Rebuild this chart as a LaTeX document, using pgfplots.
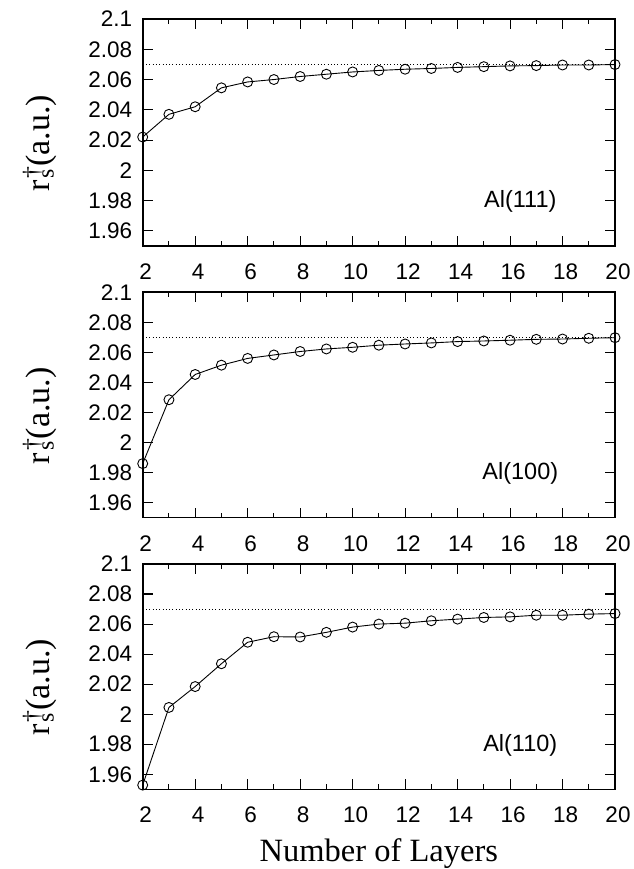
\documentclass[border=0pt]{standalone}
\usepackage{fontspec}
\setmainfont{Liberation Serif}
\newfontfamily\arial{Liberation Sans}
\usepackage{pgfplots}
\pgfplotsset{compat=1.18}

\tikzset{lab/.style={font=\arial\fontsize{23.5}{23.5}\selectfont}}
\pgfplotsset{
 panel/.style={
  scale only axis, width=472.3pt,
  xmin=2, xmax=20, ymin=1.95, ymax=2.1,
  xtick={2,4,6,8,10,12,14,16,18,20},
  minor xtick={3,5,7,9,11,13,15,17,19},
  xticklabels={2,4,6,8,10,12,14,16,18,20},
  ytick={1.96,1.98,2,2.02,2.04,2.06,2.08,2.1},
  yticklabels={1.96,1.98,2,2.02,2.04,2.06,2.08,2.1},
  tick align=inside,
  major tick length=10pt, minor tick length=5pt,
  tick style={black, line width=1.1pt},
  axis line style={line width=1.6pt},
  tick label style={font=\arial\fontsize{22.5}{22.5}\selectfont},
  xticklabel style={anchor=base, yshift=-33.6pt, xshift=3pt},
  yticklabel style={xshift=-7pt},
  clip=false,
  ylabel={r\kern2pt\rlap{\raisebox{0.05em}{\textsuperscript{\dag}}}\textsubscript{s}\kern2pt(a.u.)},
  ylabel style={at={(axis description cs:-0.1963,0.452)}, anchor=base, font=\fontsize{34}{34}\selectfont},
 },
 dat/.style={black, line width=0.9pt, mark=o, mark size=5pt, mark options={line width=0.9pt, solid}},
 ref/.style={black, line width=0.8pt, dash pattern=on 1pt off 2.3pt},
}

\begin{document}
\begin{tikzpicture}
\begin{axis}[panel, at={(142.7pt,623pt)}, anchor=south west, height=227pt]
\addplot[ref] coordinates {(2,2.07) (20,2.07)};
\addplot[dat] coordinates {
(2,2.022) (3,2.037) (4,2.042) (5,2.0545) (6,2.0584) (7,2.060) (8,2.062) (9,2.0635)
(10,2.065) (11,2.066) (12,2.0668) (13,2.0673) (14,2.068) (15,2.0685) (16,2.069)
(17,2.0692) (18,2.0696) (19,2.0696) (20,2.0699)};
\node[lab] at (axis cs:16.39,1.9795) {Al(111)};
\end{axis}
\begin{axis}[panel, at={(142.7pt,351.3pt)}, anchor=south west, height=225.4pt]
\addplot[ref] coordinates {(2,2.07) (20,2.07)};
\addplot[dat] coordinates {
(2,1.986) (3,2.0285) (4,2.0453) (5,2.0515) (6,2.056) (7,2.0583) (8,2.0606) (9,2.0623)
(10,2.0634) (11,2.0648) (12,2.0656) (13,2.0663) (14,2.0672) (15,2.0676) (16,2.0681)
(17,2.0687) (18,2.0689) (19,2.0694) (20,2.0698)};
\node[lab] at (axis cs:16.39,1.9795) {Al(100)};
\end{axis}
\begin{axis}[panel, at={(142.7pt,79.7pt)}, anchor=south west, height=225.3pt,
  xlabel={Number of Layers},
  xlabel style={at={(axis description cs:0.5,-0.3213)}, anchor=base, font=\fontsize{32.5}{32.5}\selectfont}]
\addplot[ref] coordinates {(2,2.07) (20,2.07)};
\addplot[dat] coordinates {
(2,1.9528) (3,2.0045) (4,2.0184) (5,2.0336) (6,2.0479) (7,2.0516) (8,2.0514) (9,2.0545)
(10,2.058) (11,2.060) (12,2.0606) (13,2.0622) (14,2.0633) (15,2.0644) (16,2.0648)
(17,2.0659) (18,2.0659) (19,2.0666) (20,2.067)};
\node[lab] at (axis cs:16.39,1.9795) {Al(110)};
\end{axis}
\pgfresetboundingbox
\useasboundingbox (0pt,0pt) rectangle (633pt,869pt);
\end{tikzpicture}
\end{document}
